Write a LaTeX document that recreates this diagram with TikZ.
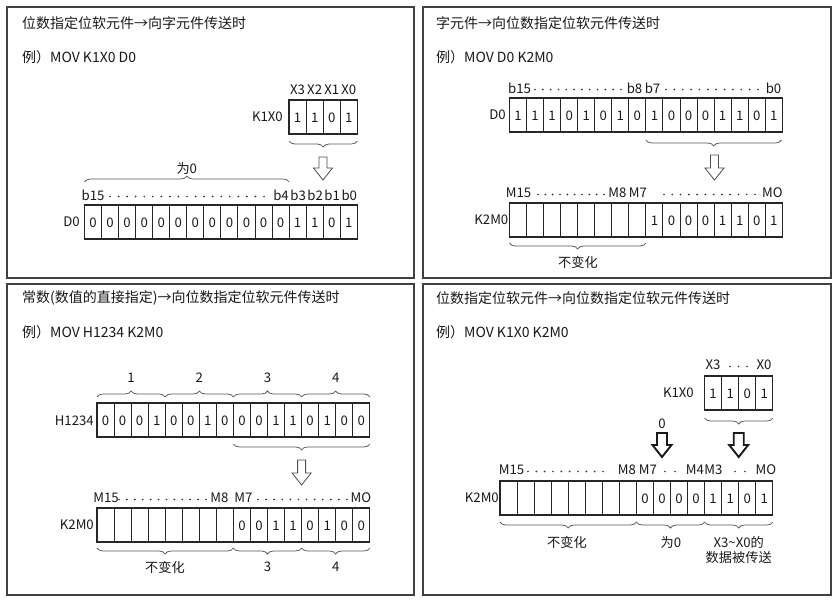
\documentclass[tikz,border=0pt]{standalone}
\usepackage{fontspec}
\setmainfont{Noto Sans CJK SC}
\usetikzlibrary{decorations.pathreplacing}
\def\cw{17.05}
\newcommand\mkreg[4]{%
  \draw[regline] (#1,#2) rectangle ({#1+(#3+1)*\cw},#2+34);
  \foreach \i in {1,...,#3} \draw[cellline] ({#1+\i*\cw},#2) -- ++(0,34);
  \foreach \v [count=\i from 0] in {#4} \node[digit] at ({#1+(\i+0.5)*\cw},#2+17.5) {\v};
}
\newcommand\mkdots[4]{% x1, x2, n-1, y
  \foreach \k in {0,...,#3} \fill[black!80] ({#1+\k*(#2-#1)/#3},#4) circle (0.95pt);
}
\newcommand\harrow[5]{% cx, ytop, ytip, half shaft, style
  \draw[#5] (#1-#4,#2) -- (#1+#4,#2) -- (#1+#4,#3-12) -- (#1+9.5,#3-12) -- (#1,#3)
    -- (#1-9.5,#3-12) -- (#1-#4,#3-12) -- cycle;
}
\begin{document}
\begin{tikzpicture}[x=1pt,y=-1pt,
  panel/.style={draw=black!75,line width=1.2pt},
  title/.style={anchor=west,inner sep=0,font=\fontsize{14}{16}\selectfont,text=black!90},
  lbl/.style={inner sep=0,font=\fontsize{13.2}{14}\selectfont,text=black!90},
  digit/.style={inner sep=0,font=\fontsize{13.2}{14}\selectfont,text=black!90},
  brc/.style={decorate,decoration={brace,amplitude=6pt,aspect=0.5},draw=black!65,line width=0.75pt},
  thinarrow/.style={draw=black!70,line width=0.8pt,fill=white},
  boldarrow/.style={draw=black!90,line width=1.9pt,fill=white},
  regline/.style={draw=black!85,line width=1.3pt},
  cellline/.style={draw=black!85,line width=1.0pt},
]
\useasboundingbox (0,0) rectangle (839,605);
\fill[white] (0,0) rectangle (839,605);
% panels
\draw[panel] (7,7) rectangle (414,278);
\draw[panel] (423,7) rectangle (831,278);
\draw[panel] (7,284) rectangle (414,595);
\draw[panel] (423,284) rectangle (831,595);

% ---------------- Panel 1 ----------------
\node[title] (t1) at (22,23) {位数指定位软元件→向字元件传送时};
\node[title] (e1) at (22,57) {例）MOV K1X0 D0};
\mkreg{289.1}{100}{3}{1,1,0,1}
\foreach \s [count=\i from 0] in {X3,X2,X1,X0} \node[lbl] at ({289.1+(\i+0.5)*\cw},90) {\s};
\node[lbl,anchor=east] (k1a) at (283,117) {K1X0};
\draw[brc] (357.3,141) -- (289.1,141);
\harrow{323}{157}{180}{4}{thinarrow}
\node[lbl] (z1) at (186.8,168) {为0};
\draw[brc] (84.5,182) -- (289.1,182);
\node[lbl] at (93,195) {b15};
\mkdots{110}{264}{18}{196.5}
\foreach \s [count=\i from 11] in {b4,b3,b2,b1,b0} \node[lbl] at ({84.5+(\i+0.5)*\cw+0.5},195) {\s};
\mkreg{84.5}{205}{15}{0,0,0,0,0,0,0,0,0,0,0,0,1,1,0,1}
\node[lbl,anchor=east] (d0a) at (80,222) {D0};

% ---------------- Panel 2 ----------------
\node[title] (t2) at (436,23) {字元件→向位数指定位软元件传送时};
\node[title] (e2) at (436,57) {例）MOV D0 K2M0};
\node[lbl] at (519.5,88) {b15};
\mkdots{535}{621}{11}{89.5}
\node[lbl] at (634.5,88) {b8};
\node[lbl] at (652.5,88) {b7};
\mkdots{666}{758}{11}{89.5}
\node[lbl] at (773.5,88) {b0};
\mkreg{509.5}{98}{15}{1,1,1,0,1,0,1,0,1,0,0,0,1,1,0,1}
\node[lbl,anchor=east] (d0b) at (506,115) {D0};
\draw[brc] (781.5,140) -- (645.9,140);
\harrow{714.5}{155}{180}{4}{thinarrow}
\node[lbl] at (518.5,193) {M15};
\mkdots{538}{604}{9}{194.5}
\node[lbl] at (617.5,193) {M8};
\node[lbl] at (638,193) {M7};
\mkdots{664}{755}{11}{194.5}
\node[lbl] at (772.5,193) {MO};
\mkreg{509.5}{203}{15}{{},{},{},{},{},{},{},{},1,0,0,0,1,1,0,1}
\node[lbl,anchor=east] (k2a) at (508.5,220) {K2M0};
\draw[brc] (645.9,243) -- (509.5,243);
\node[lbl] at (578,262) {不变化};

% ---------------- Panel 3 ----------------
\node[title] (t3) at (22,298) {常数(数值的直接指定)→向位数指定位软元件传送时};
\node[title] (e3) at (22,332) {例）MOV H1234 K2M0};
\foreach \s [count=\g from 0] in {1,2,3,4}{
  \draw[brc] ({97+4*\g*\cw},397) -- ({97+4*(\g+1)*\cw},397);
  \node[lbl] at ({97+(4*\g+2)*\cw},378) {\s};
}
\mkreg{97}{403}{15}{0,0,0,1,0,0,1,0,0,0,1,1,0,1,0,0}
\node[lbl,anchor=east] (h1) at (94,421) {H1234};
\draw[brc] (369.8,444) -- (233.4,444);
\harrow{301.6}{460}{485}{4}{thinarrow}
\node[lbl] at (106,498) {M15};
\mkdots{119}{206}{11}{499.5}
\node[lbl] at (219.5,498) {M8};
\node[lbl] at (243.5,498) {M7};
\mkdots{258}{347}{11}{499.5}
\node[lbl] at (361,498) {MO};
\mkreg{97}{508}{15}{{},{},{},{},{},{},{},{},0,0,1,1,0,1,0,0}
\node[lbl,anchor=east] (k2b) at (94,525) {K2M0};
\draw[brc] (233.4,548) -- (97,548);
\draw[brc] (301.6,548) -- (233.4,548);
\draw[brc] (369.8,548) -- (301.6,548);
\node[lbl] at (165,567) {不变化};
\node[lbl] at (267.5,567) {3};
\node[lbl] at (335.7,567) {4};

% ---------------- Panel 4 ----------------
\node[title] (t4) at (436,298) {位数指定位软元件→向位数指定位软元件传送时};
\node[title] (e4) at (436,332) {例）MOV K1X0 K2M0};
\node[lbl] at (713,365) {X3};
\mkdots{730}{747}{2}{366.5}
\node[lbl] at (764,365) {X0};
\mkreg{704.6}{376}{3}{1,1,0,1}
\node[lbl,anchor=east] (k1b) at (694,393) {K1X0};
\draw[brc] (772.8,418) -- (704.6,418);
\harrow{738.7}{433}{457}{5}{boldarrow}
\node[lbl] at (662,424) {0};
\harrow{662}{433}{457}{5}{boldarrow}
\node[lbl] at (511.5,470) {M15};
\mkdots{528}{603}{9}{471.5}
\node[lbl] at (627,470) {M8};
\node[lbl] at (648,470) {M7};
\mkdots{665}{675}{1}{471.5}
\node[lbl] at (695,470) {M4};
\node[lbl] at (713.5,470) {M3};
\mkdots{735}{745}{1}{471.5}
\node[lbl] at (766,470) {MO};
\mkreg{500}{481}{15}{{},{},{},{},{},{},{},{},0,0,0,0,1,1,0,1}
\node[lbl,anchor=east] (k2c) at (499,498) {K2M0};
\draw[brc] (636.4,522) -- (500,522);
\draw[brc] (704.6,522) -- (636.4,522);
\draw[brc] (772.8,522) -- (704.6,522);
\node[lbl] at (567,542) {不变化};
\node[lbl] at (671,542) {为0};
\node[lbl] at (738.7,542) {X3\textasciitilde X0的};
\node[lbl] at (738.7,557) {数据被传送};
\end{tikzpicture}
\end{document}
